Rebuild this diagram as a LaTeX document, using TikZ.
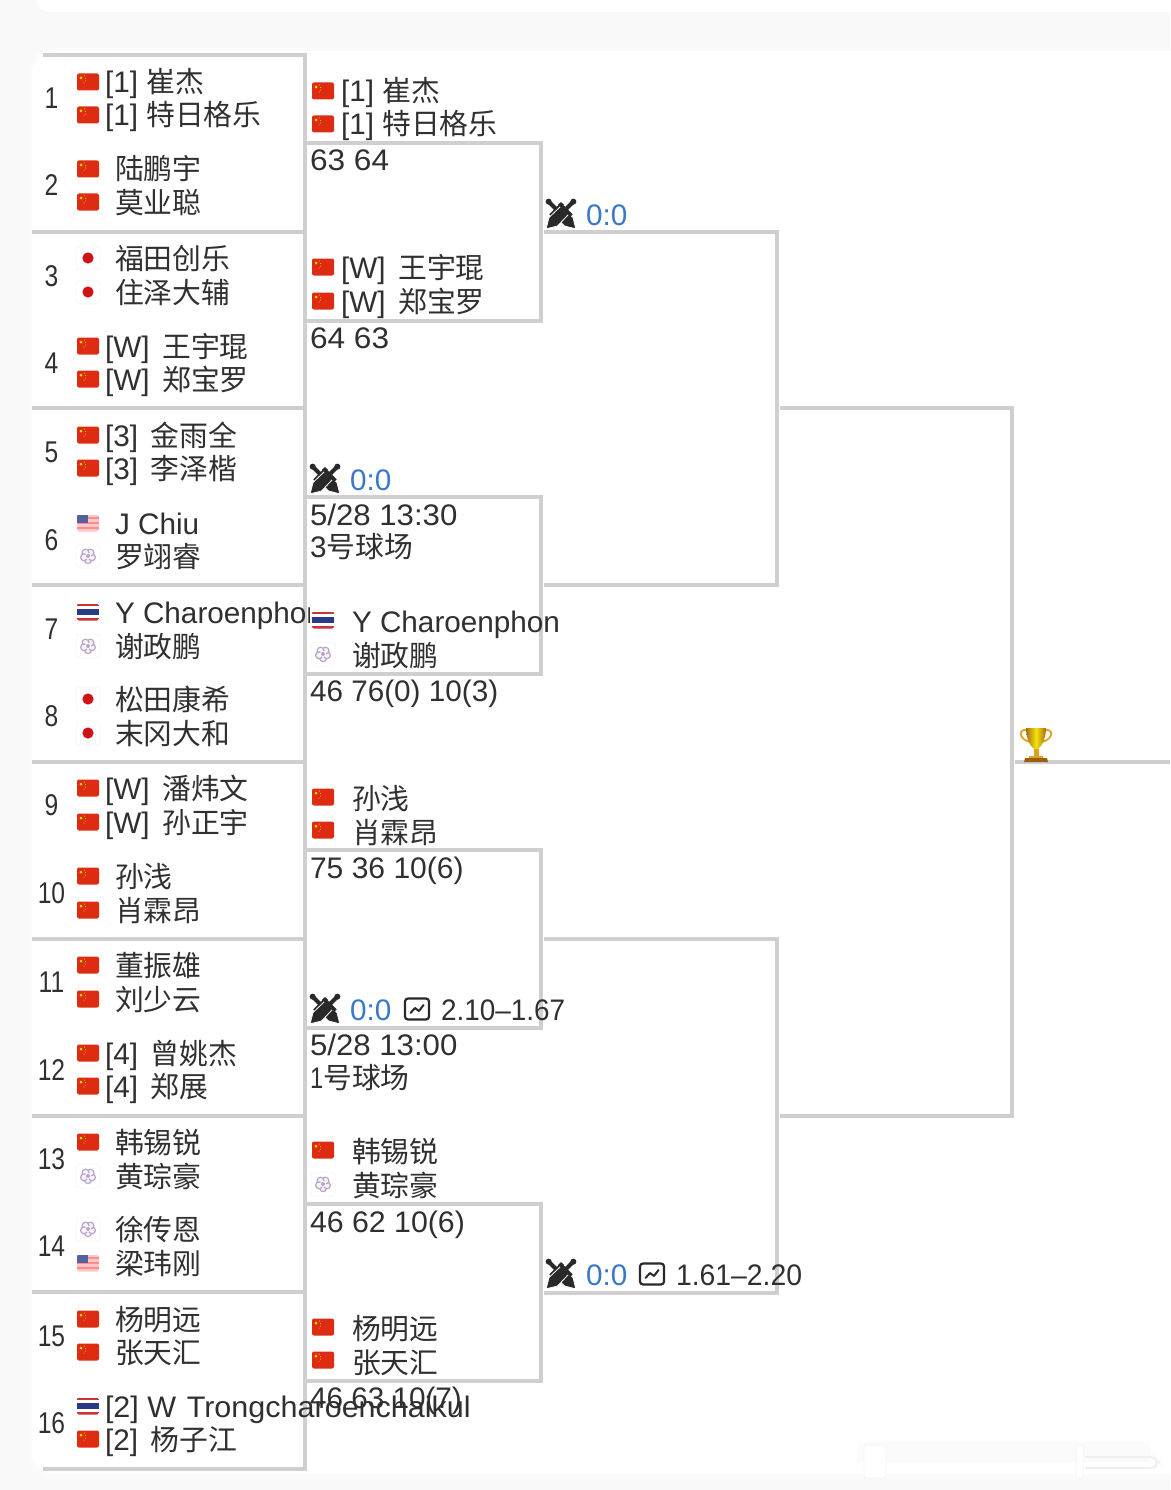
\documentclass[tikz,border=0pt]{standalone}
\usepackage{graphicx}
\usepackage{fontspec}
\setmainfont{Liberation Sans}
\newfontfamily\cjk[Scale=0.97]{Noto Sans CJK SC}
\definecolor{ink}{HTML}{303030}
\definecolor{rule}{HTML}{CFCFCF}
\definecolor{blueT}{HTML}{3A78C9}
\definecolor{cnred}{HTML}{DE2C12}
\definecolor{jpred}{HTML}{CF1218}
\definecolor{navy}{HTML}{2B3A86}
\definecolor{lilac}{HTML}{B9A3C6}
\definecolor{pagebg}{HTML}{F9F9F9}
\definecolor{gold}{HTML}{E0A21E}
\definecolor{darkgold}{HTML}{9C5F10}
\newcommand\cn[1]{{\cjk #1}}
\newcommand\sx[2]{\scalebox{#1}[1]{#2}}
\newcommand\wtag{[W]\hspace{4.5pt} }
\newcommand\stag[1]{[#1]\hspace{4.5pt} }
\newcounter{tn}
\tikzset{
  x=1pt,y=-1pt,
  txt/.style={anchor=base west,inner sep=0pt,outer sep=0pt,text=ink,font=\fontsize{29.7}{31}\selectfont},
  brk/.style={draw=rule,line width=3.2pt,line cap=butt,line join=miter},
  flagbox/.style={fill=white,draw=black!5,line width=.5pt,rounded corners=4pt},
}
% text line: x, y centre, content
\newcommand\tl[3]{\stepcounter{tn}\node[txt] (t\thetn) at (#1,#2+11) {#3};}
\newcommand\blue[2]{\stepcounter{tn}\node[txt,text=blueT] (t\thetn) at (#1,#2+11) {0:0};}
\newcommand\num[2]{\stepcounter{tn}\node[anchor=base,inner sep=0pt,text=ink,font=\fontsize{30}{31}\selectfont] (t\thetn) at (51.5,#2+11) {\scalebox{.82}[1]{#1}};}
% flags: x, y centre
\newcommand\fcn[2]{\begin{scope}[shift={(#1,#2)}]
 \fill[white] (-14,-13) rectangle (14,13);
 \fill[cnred,rounded corners=2pt] (-11,-8.5) rectangle (11,8.5);
 \fill[yellow!85!orange] (-7,-4) circle (1.5);
 \foreach \a/\b in {-3.5/-6,-2.5/-3.5,-2.5/-1,-4/1}{\fill[yellow!85!orange] (\a,\b) circle (.5);}
 \end{scope}}
\newcommand\fjp[2]{\begin{scope}[shift={(#1,#2)}]
 \fill[flagbox] (-12,-12) rectangle (12,12);
 \fill[jpred] (0,0) circle (5.6);
 \end{scope}}
\newcommand\ftw[2]{\begin{scope}[shift={(#1,#2)}]
 \fill[flagbox] (-12,-12) rectangle (12,12);
 \foreach \a in {90,18,-54,-126,162}{\draw[lilac,line width=1.2pt,fill=lilac!12] (\a:4.2) circle (3.4);}
 \fill[white] (0,0) circle (3);
 \fill[lilac] (0,0) circle (2);
 \end{scope}}
\newcommand\fth[2]{\begin{scope}[shift={(#1,#2)}]
 \fill[white] (-13,-13) rectangle (13,13);
 \begin{scope}
 \clip[rounded corners=2pt] (-11,-8.5) rectangle (11,8.5);
 \fill[white] (-11,-8.5) rectangle (11,8.5);
 \fill[red!75!black!80] (-11,-8.5) rectangle (11,-5.7);
 \fill[red!75!black!80] (-11,5.7) rectangle (11,8.5);
 \fill[navy] (-11,-2.9) rectangle (11,2.9);
 \end{scope}
 \end{scope}}
\newcommand\fstr[2]{\begin{scope}[shift={(#1,#2)}]
 \fill[white] (-13,-12) rectangle (13,12);
 \begin{scope}
 \clip[rounded corners=2pt] (-11,-8.5) rectangle (11,8.5);
 \fill[red!22] (-11,-8.5) rectangle (11,8.5);
 \foreach \s in {-6,-1,4}{\fill[red!45] (-11,\s) rectangle (11,\s+2.2);}
 \fill[navy!80] (-11,-8.5) rectangle (0,0);
 \end{scope}
 \end{scope}}
\newcommand\fus[2]{\fstr{#1}{#2}}
\newcommand\fmy[2]{\fstr{#1}{#2}}
% crossed swords
\newcommand\onesword[1]{\begin{scope}[rotate=#1]
 \fill[ink!85!black,draw=white,line width=.8pt,line join=round] (-6,-5.6)--(11,-6)--(21,0)--(11,6)--(-6,5.6)--cycle;
 \fill[ink!85!black] (-8,-8.5) rectangle (-4.5,8.5);
 \fill[ink!85!black] (-17,-2.1) rectangle (-7,2.1);
 \fill[ink!85!black] (-17.5,0) circle (3);
 \end{scope}}
\newcommand\swords[2]{\begin{scope}[shift={(#1,#2)}]\onesword{-45}\onesword{-135}\end{scope}}
% chart icon
\newcommand\chartic[2]{\begin{scope}[shift={(#1,#2)}]
 \draw[ink!85!black,line width=2.2pt,rounded corners=3pt] (-12,-10.5) rectangle (12,10.5);
 \draw[ink!85!black,line width=2pt,line join=round,line cap=round] (-6.5,4)--(-2,-1)--(2,2)--(6.5,-4);
 \end{scope}}
% bracket with named corners
\newcommand\bracket[5]{
 \coordinate (#1-a) at (#2,#4);
 \coordinate (#1-b) at (#3,#4);
 \coordinate (#1-c) at (#3,#5);
 \coordinate (#1-d) at (#2,#5);
 \draw[brk] (#1-a)--(#1-b)--(#1-c)--(#1-d);
}
\begin{document}
\begin{tikzpicture}
\useasboundingbox (0,0) rectangle (1170,1490);
\fill[pagebg] (0,0) rectangle (1170,1490);
% cards
\fill[white,rounded corners=12pt] (37,-30) rectangle (1200,12);
\fill[black!1.5,rounded corners=24pt] (29,48) rectangle (1200,1478);
\fill[white,rounded corners=22pt] (32,51) rectangle (1200,1474);
% faint bottom-right artefacts
\fill[black!1.5] (858,1442) rectangle (1150,1462);
\fill[white,rounded corners=3pt,draw=black!5,line width=.5pt] (864,1445) rectangle (886,1478);
\fill[white,rounded corners=1pt,draw=black!6,line width=.5pt] (1076,1445) rectangle (1083,1478);
\draw[black!6,line width=2pt,rounded corners=4pt] (1085,1457)--(1154,1457)--(1158,1462)--(1154,1468)--(1085,1468);
% round 1 grid
\coordinate (sp-t) at (305,53.5);
\coordinate (sp-b) at (305,1471);
\draw[brk] (sp-t)--(sp-b);
\coordinate (l0a) at (43,55); \coordinate (l0b) at (304,55);
\draw[brk] (l0a)--(l0b);
\coordinate (l9a) at (43,1469); \coordinate (l9b) at (304,1469);
\draw[brk] (l9a)--(l9b);
\foreach \n/\y in {1/232,2/408,3/585,4/762,5/939,6/1116,7/1292}{
 \coordinate (l\n a) at (32,\y);
 \coordinate (l\n b) at (303,\y);
 \draw[brk] (l\n a)--(l\n b);
}
% round 2
\bracket{m1}{307}{541}{143}{321}
\bracket{m2}{307}{541}{497}{674}
\bracket{m3}{307}{541}{850}{1028}
\bracket{m4}{307}{541}{1204}{1381}
% round 3
\bracket{q1}{544}{777}{232}{585}
\bracket{q2}{544}{777}{939}{1293}
% round 4
\bracket{s1}{780}{1012}{408}{1116}
% final
\coordinate (f-a) at (1015,762);
\coordinate (f-b) at (1170,762);
\draw[brk] (f-a)--(f-b);

% left column numbers
\num{1}{98}\num{2}{185}\num{3}{275}\num{4}{362}\num{5}{451}\num{6}{539}\num{7}{628}\num{8}{715}
\num{9}{804}\num{10}{892}\num{11}{981}\num{12}{1069}\num{13}{1158}\num{14}{1245}\num{15}{1335}\num{16}{1422}
% left column players
\fcn{88}{82}\tl{105}{82}{[1] \cn{崔杰}}
\fcn{88}{115}\tl{105}{115}{[1] \cn{特日格乐}}
\fcn{88}{169}\tl{115}{169}{\cn{陆鹏宇}}
\fcn{88}{202}\tl{115}{202}{\cn{莫业聪}}
\fjp{88}{258}\tl{115}{258}{\cn{福田创乐}}
\fjp{88}{292}\tl{115}{292}{\cn{住泽大辅}}
\fcn{88}{346}\tl{105}{346}{\wtag\cn{王宇琨}}
\fcn{88}{379}\tl{105}{379}{\wtag\cn{郑宝罗}}
\fcn{88}{435}\tl{105}{435}{\stag{3}\cn{金雨全}}
\fcn{88}{468}\tl{105}{468}{\stag{3}\cn{李泽楷}}
\fus{88}{523}\tl{115}{523}{J Chiu}
\ftw{88}{556}\tl{115}{556}{\cn{罗翊睿}}
\fth{88}{612}\tl{115}{612}{Y Charoenphon}
\ftw{88}{646}\tl{115}{646}{\cn{谢政鹏}}
\fjp{88}{699}\tl{115}{699}{\cn{松田康希}}
\fjp{88}{733}\tl{115}{733}{\cn{末冈大和}}
\fcn{88}{788}\tl{105}{788}{\wtag\cn{潘炜文}}
\fcn{88}{822}\tl{105}{822}{\wtag\cn{孙正宇}}
\fcn{88}{876}\tl{115}{876}{\cn{孙浅}}
\fcn{88}{910}\tl{115}{910}{\cn{肖霖昂}}
\fcn{88}{965}\tl{115}{965}{\cn{董振雄}}
\fcn{88}{999}\tl{115}{999}{\cn{刘少云}}
\fcn{88}{1053}\tl{105}{1053}{\stag{4}\cn{曾姚杰}}
\fcn{88}{1086}\tl{105}{1086}{\stag{4}\cn{郑展}}
\fcn{88}{1142}\tl{115}{1142}{\cn{韩锡锐}}
\ftw{88}{1176}\tl{115}{1176}{\cn{黄琮豪}}
\ftw{88}{1229}\tl{115}{1229}{\cn{徐传恩}}
\fmy{88}{1263}\tl{115}{1263}{\cn{梁玮刚}}
\fcn{88}{1319}\tl{115}{1319}{\cn{杨明远}}
\fcn{88}{1352}\tl{115}{1352}{\cn{张天汇}}
\fth{88}{1406}\tl{105}{1406}{\sx{1.028}{[2] W\hspace{2pt} Trongcharoenchaikul}}
\fcn{88}{1439}\tl{105}{1439}{\stag{2}\cn{杨子江}}
% round 2 texts
\fcn{323}{91}\tl{341}{91}{[1] \cn{崔杰}}
\fcn{323}{124}\tl{341}{124}{[1] \cn{特日格乐}}
\tl{310}{160}{\sx{1.065}{63 64}}
\fcn{323}{267}\tl{341}{267}{\wtag\cn{王宇琨}}
\fcn{323}{301}\tl{341}{301}{\wtag\cn{郑宝罗}}
\tl{310}{337}{\sx{1.065}{64 63}}
\swords{325}{479}\blue{350}{479}
\tl{310}{514}{\sx{1.05}{5/28 13:30}}
\tl{310}{546}{3\cn{号球场}}
\fth{323}{620}\tl{352}{621}{Y Charoenphon}
\ftw{323}{654}\tl{352}{655}{\cn{谢政鹏}}
\tl{310}{690}{46 76(0) 10(3)}
\fcn{323}{797}\tl{352}{798}{\cn{孙浅}}
\fcn{323}{830}\tl{352}{832}{\cn{肖霖昂}}
\tl{310}{867}{\sx{1.012}{75 36 10(6)}}
\swords{325}{1009}\blue{350}{1009}\chartic{417}{1009}\tl{441}{1009}{\sx{.94}{2.10–1.67}}
\tl{310}{1044}{\sx{1.05}{5/28 13:00}}
\tl{310}{1077}{\sx{.8}{1}\cn{号球场}}
\fcn{323}{1150}\tl{352}{1151}{\cn{韩锡锐}}
\ftw{323}{1184}\tl{352}{1185}{\cn{黄琮豪}}
\tl{310}{1221}{\sx{1.02}{46 62 10(6)}}
\fcn{323}{1327}\tl{352}{1328}{\cn{杨明远}}
\fcn{323}{1360}\tl{352}{1362}{\cn{张天汇}}
\tl{310}{1397}{46 63 10(7)}
% round 3 texts
\swords{561}{214}\blue{586}{214}
\swords{561}{1274}\blue{586}{1274}\chartic{652}{1274}\tl{676}{1274}{\sx{.955}{1.61–2.20}}
% trophy
\begin{scope}[shift={(1036,745)}]
 \draw[gold,line width=1.8pt] (-8,-15) .. controls (-18,-17) and (-18,-6) .. (-6,-3);
 \draw[gold,line width=1.8pt] (8,-15) .. controls (18,-17) and (18,-6) .. (6,-3);
 \shade[left color=darkgold!80!gold,right color=darkgold!80!gold,middle color=yellow!70!gold] (-10,-17) -- (10,-17) .. controls (10,-6) and (5,2) .. (2,4) -- (-2,4) .. controls (-5,2) and (-10,-6) .. (-10,-17) -- cycle;
 \fill[gold] (-2.5,4) rectangle (2.5,11);
 \fill[gold] (-7,11) rectangle (7,13);
 \fill[darkgold] (-11,13) -- (11,13) -- (12,17) -- (-12,17) -- cycle;
\end{scope}
\end{tikzpicture}
\end{document}
